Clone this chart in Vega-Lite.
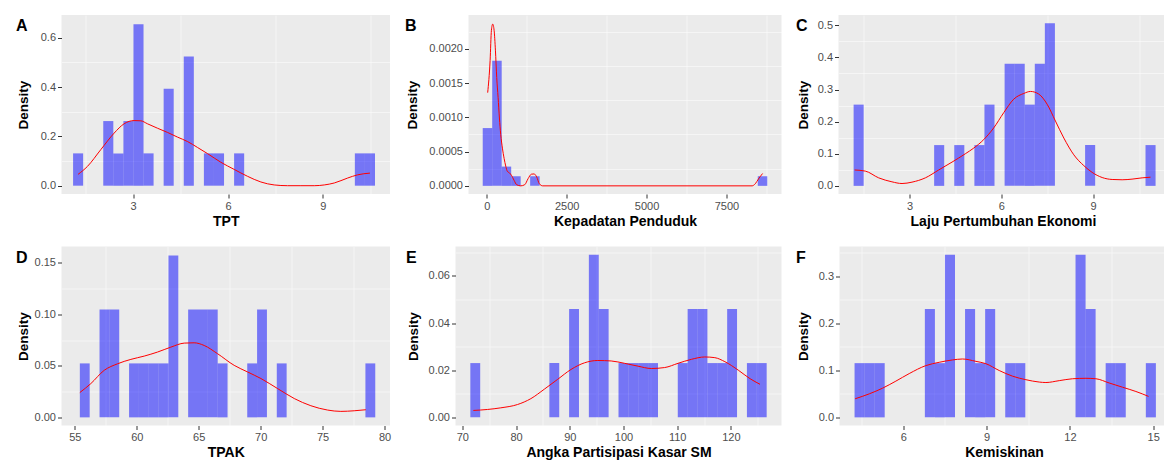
{
  "$schema": "https://vega.github.io/schema/vega-lite/v6.json",
  "background": "white",
  "padding": {"left": 15.5, "top": 15, "right": 0, "bottom": 2},
  "spacing": 18.5,
  "datasets": {
    "barsA": [
      {"x0": 1.102, "x1": 1.420, "density": 0.131},
      {"x0": 2.056, "x1": 2.374, "density": 0.262},
      {"x0": 2.374, "x1": 2.693, "density": 0.131},
      {"x0": 2.693, "x1": 3.011, "density": 0.262},
      {"x0": 3.011, "x1": 3.329, "density": 0.655},
      {"x0": 3.329, "x1": 3.647, "density": 0.131},
      {"x0": 3.965, "x1": 4.283, "density": 0.393},
      {"x0": 4.601, "x1": 4.919, "density": 0.524},
      {"x0": 5.237, "x1": 5.555, "density": 0.131},
      {"x0": 5.555, "x1": 5.874, "density": 0.131},
      {"x0": 6.192, "x1": 6.510, "density": 0.131},
      {"x0": 10.009, "x1": 10.327, "density": 0.131},
      {"x0": 10.327, "x1": 10.645, "density": 0.131}
    ],
    "curveA": [
      {"x": 1.26, "y": 0.046}, {"x": 1.555, "y": 0.078}, {"x": 1.977, "y": 0.146}, {"x": 2.399, "y": 0.213},
      {"x": 2.715, "y": 0.251}, {"x": 3.032, "y": 0.264}, {"x": 3.243, "y": 0.263}, {"x": 3.453, "y": 0.251},
      {"x": 3.77, "y": 0.233}, {"x": 4.086, "y": 0.216}, {"x": 4.403, "y": 0.197}, {"x": 4.719, "y": 0.179},
      {"x": 5.035, "y": 0.155}, {"x": 5.352, "y": 0.13}, {"x": 5.773, "y": 0.095}, {"x": 6.195, "y": 0.066},
      {"x": 6.617, "y": 0.038}, {"x": 7.039, "y": 0.015}, {"x": 7.461, "y": 0.003}, {"x": 7.882, "y": 0.0},
      {"x": 8.304, "y": 0.0}, {"x": 8.726, "y": 0.0}, {"x": 9.042, "y": 0.003}, {"x": 9.359, "y": 0.011},
      {"x": 9.781, "y": 0.031}, {"x": 10.097, "y": 0.044}, {"x": 10.486, "y": 0.051}
    ],
    "barsB": [
      {"x0": -125, "x1": 171.7, "density": 0.000843},
      {"x0": 171.7, "x1": 468.4, "density": 0.001826},
      {"x0": 468.4, "x1": 765.1, "density": 0.000281},
      {"x0": 765.1, "x1": 1061.8, "density": 0.00014},
      {"x0": 1358.5, "x1": 1655.2, "density": 0.00014},
      {"x0": 8479.3, "x1": 8776, "density": 0.00014}
    ],
    "curveB": [
      {"x": 30, "y": 0.00136}, {"x": 106, "y": 0.00183}, {"x": 147, "y": 0.00227}, {"x": 188, "y": 0.00236},
      {"x": 231, "y": 0.00227}, {"x": 272, "y": 0.00198}, {"x": 313, "y": 0.00158}, {"x": 356, "y": 0.00129},
      {"x": 397, "y": 0.00099}, {"x": 438, "y": 0.00075}, {"x": 491, "y": 0.00055}, {"x": 544, "y": 0.0004},
      {"x": 594, "y": 0.00029}, {"x": 647, "y": 0.00021}, {"x": 709, "y": 0.00019}, {"x": 772, "y": 0.000155},
      {"x": 856, "y": 0.00008}, {"x": 938, "y": 0.000016}, {"x": 1063, "y": 0}, {"x": 1188, "y": 0.000016},
      {"x": 1294, "y": 0.000105}, {"x": 1397, "y": 0.00017}, {"x": 1481, "y": 0.000174}, {"x": 1563, "y": 0.00013},
      {"x": 1647, "y": 0.00003}, {"x": 1750, "y": 0}, {"x": 8300, "y": 0}, {"x": 8400, "y": 0.00003},
      {"x": 8500, "y": 0.0001}, {"x": 8630, "y": 0.00018}
    ],
    "barsC": [
      {"x0": 1.167, "x1": 1.496, "density": 0.253},
      {"x0": 3.800, "x1": 4.129, "density": 0.127},
      {"x0": 4.458, "x1": 4.787, "density": 0.127},
      {"x0": 5.116, "x1": 5.445, "density": 0.127},
      {"x0": 5.445, "x1": 5.774, "density": 0.253},
      {"x0": 6.104, "x1": 6.433, "density": 0.380},
      {"x0": 6.433, "x1": 6.762, "density": 0.380},
      {"x0": 6.762, "x1": 7.091, "density": 0.253},
      {"x0": 7.091, "x1": 7.420, "density": 0.380},
      {"x0": 7.420, "x1": 7.749, "density": 0.506},
      {"x0": 8.736, "x1": 9.065, "density": 0.127},
      {"x0": 10.711, "x1": 11.040, "density": 0.127}
    ],
    "curveC": [
      {"x": 1.2, "y": 0.0495}, {"x": 1.55, "y": 0.046}, {"x": 1.986, "y": 0.025}, {"x": 2.42, "y": 0.0126},
      {"x": 2.75, "y": 0.0073}, {"x": 3.076, "y": 0.0116}, {"x": 3.513, "y": 0.025}, {"x": 3.949, "y": 0.0495},
      {"x": 4.385, "y": 0.074}, {"x": 4.82, "y": 0.1}, {"x": 5.094, "y": 0.1176}, {"x": 5.421, "y": 0.144},
      {"x": 5.749, "y": 0.1806}, {"x": 6.076, "y": 0.2279}, {"x": 6.403, "y": 0.27}, {"x": 6.73, "y": 0.2877},
      {"x": 6.95, "y": 0.294}, {"x": 7.221, "y": 0.2858}, {"x": 7.494, "y": 0.2543}, {"x": 7.767, "y": 0.2017},
      {"x": 8.04, "y": 0.149}, {"x": 8.367, "y": 0.0967}, {"x": 8.694, "y": 0.063}, {"x": 8.966, "y": 0.042},
      {"x": 9.294, "y": 0.026}, {"x": 9.62, "y": 0.0199}, {"x": 9.947, "y": 0.019}, {"x": 10.27, "y": 0.021},
      {"x": 10.6, "y": 0.025}, {"x": 10.875, "y": 0.027}
    ],
    "barsD": [
      {"x0": 55.400, "x1": 56.195, "density": 0.0524},
      {"x0": 56.990, "x1": 57.785, "density": 0.1048},
      {"x0": 57.785, "x1": 58.580, "density": 0.1048},
      {"x0": 59.375, "x1": 60.170, "density": 0.0524},
      {"x0": 60.170, "x1": 60.965, "density": 0.0524},
      {"x0": 60.965, "x1": 61.760, "density": 0.0524},
      {"x0": 61.760, "x1": 62.555, "density": 0.0524},
      {"x0": 62.555, "x1": 63.350, "density": 0.1572},
      {"x0": 64.145, "x1": 64.940, "density": 0.1048},
      {"x0": 64.940, "x1": 65.735, "density": 0.1048},
      {"x0": 65.735, "x1": 66.530, "density": 0.1048},
      {"x0": 66.530, "x1": 67.325, "density": 0.0524},
      {"x0": 68.915, "x1": 69.710, "density": 0.0524},
      {"x0": 69.710, "x1": 70.505, "density": 0.1048},
      {"x0": 71.300, "x1": 72.095, "density": 0.0524},
      {"x0": 78.455, "x1": 79.250, "density": 0.0524}
    ],
    "curveD": [
      {"x": 55.4, "y": 0.0241}, {"x": 56.29, "y": 0.0328}, {"x": 57.37, "y": 0.0457}, {"x": 58.44, "y": 0.052},
      {"x": 59.52, "y": 0.0563}, {"x": 60.6, "y": 0.0595}, {"x": 61.67, "y": 0.0634}, {"x": 62.75, "y": 0.0682},
      {"x": 63.83, "y": 0.0721}, {"x": 64.63, "y": 0.0724}, {"x": 65.44, "y": 0.0698}, {"x": 66.52, "y": 0.0618},
      {"x": 67.86, "y": 0.0505}, {"x": 68.94, "y": 0.0441}, {"x": 70.02, "y": 0.0377}, {"x": 71.36, "y": 0.028},
      {"x": 72.71, "y": 0.0183}, {"x": 74.05, "y": 0.0113}, {"x": 75.4, "y": 0.0071}, {"x": 76.47, "y": 0.0058},
      {"x": 77.55, "y": 0.0064}, {"x": 78.49, "y": 0.0074}
    ],
    "barsE": [
      {"x0": 71.490, "x1": 73.329, "density": 0.023},
      {"x0": 86.202, "x1": 88.041, "density": 0.023},
      {"x0": 89.880, "x1": 91.719, "density": 0.046},
      {"x0": 93.558, "x1": 95.397, "density": 0.069},
      {"x0": 95.397, "x1": 97.236, "density": 0.046},
      {"x0": 99.075, "x1": 100.914, "density": 0.023},
      {"x0": 100.914, "x1": 102.753, "density": 0.023},
      {"x0": 102.753, "x1": 104.592, "density": 0.023},
      {"x0": 104.592, "x1": 106.431, "density": 0.023},
      {"x0": 110.109, "x1": 111.948, "density": 0.023},
      {"x0": 111.948, "x1": 113.787, "density": 0.046},
      {"x0": 113.787, "x1": 115.626, "density": 0.046},
      {"x0": 115.626, "x1": 117.465, "density": 0.023},
      {"x0": 117.465, "x1": 119.304, "density": 0.023},
      {"x0": 119.304, "x1": 121.143, "density": 0.046},
      {"x0": 122.982, "x1": 124.821, "density": 0.023},
      {"x0": 124.821, "x1": 126.660, "density": 0.023}
    ],
    "curveE": [
      {"x": 72.05, "y": 0.0029}, {"x": 74.67, "y": 0.0033}, {"x": 77.16, "y": 0.004}, {"x": 80.27, "y": 0.0054},
      {"x": 82.76, "y": 0.0079}, {"x": 85.26, "y": 0.0119}, {"x": 87.75, "y": 0.0161}, {"x": 90.24, "y": 0.0203},
      {"x": 92.73, "y": 0.0231}, {"x": 95.22, "y": 0.0241}, {"x": 97.71, "y": 0.0239}, {"x": 100.2, "y": 0.0229},
      {"x": 102.69, "y": 0.0217}, {"x": 105.18, "y": 0.0207}, {"x": 107.67, "y": 0.0211}, {"x": 110.16, "y": 0.0229},
      {"x": 112.65, "y": 0.0246}, {"x": 115.14, "y": 0.0256}, {"x": 117.01, "y": 0.0253}, {"x": 118.88, "y": 0.0236},
      {"x": 121.37, "y": 0.02}, {"x": 123.55, "y": 0.0164}, {"x": 125.42, "y": 0.014}
    ],
    "barsF": [
      {"x0": 4.248, "x1": 4.610, "density": 0.1152},
      {"x0": 4.610, "x1": 4.971, "density": 0.1152},
      {"x0": 4.971, "x1": 5.333, "density": 0.1152},
      {"x0": 6.779, "x1": 7.141, "density": 0.2304},
      {"x0": 7.141, "x1": 7.502, "density": 0.1152},
      {"x0": 7.502, "x1": 7.864, "density": 0.3456},
      {"x0": 8.226, "x1": 8.587, "density": 0.2304},
      {"x0": 8.587, "x1": 8.949, "density": 0.1152},
      {"x0": 8.949, "x1": 9.310, "density": 0.2304},
      {"x0": 9.672, "x1": 10.034, "density": 0.1152},
      {"x0": 10.034, "x1": 10.395, "density": 0.1152},
      {"x0": 12.203, "x1": 12.565, "density": 0.3456},
      {"x0": 12.565, "x1": 12.926, "density": 0.2304},
      {"x0": 13.288, "x1": 13.650, "density": 0.1152},
      {"x0": 13.650, "x1": 14.011, "density": 0.1152},
      {"x0": 14.734, "x1": 15.096, "density": 0.1152}
    ],
    "curveF": [
      {"x": 4.27, "y": 0.0395}, {"x": 4.78, "y": 0.05}, {"x": 5.256, "y": 0.062}, {"x": 5.736, "y": 0.077},
      {"x": 6.216, "y": 0.093}, {"x": 6.816, "y": 0.11}, {"x": 7.296, "y": 0.117}, {"x": 7.776, "y": 0.122},
      {"x": 8.136, "y": 0.124}, {"x": 8.616, "y": 0.119}, {"x": 8.976, "y": 0.114}, {"x": 9.456, "y": 0.0995},
      {"x": 9.936, "y": 0.0875}, {"x": 10.416, "y": 0.08}, {"x": 10.896, "y": 0.075}, {"x": 11.136, "y": 0.074},
      {"x": 11.616, "y": 0.078}, {"x": 12.096, "y": 0.082}, {"x": 12.576, "y": 0.083}, {"x": 12.936, "y": 0.082},
      {"x": 13.416, "y": 0.073}, {"x": 13.896, "y": 0.064}, {"x": 14.376, "y": 0.055}, {"x": 14.832, "y": 0.0445}
    ]
  },
  "vconcat": [
    {
      "spacing": 14,
      "hconcat": [
        {
          "width": 328.5, "height": 179,
          "title": {"text": "A"},
          "layer": [
            {"data": {"name": "barsA"}, "mark": {"type": "rect", "fill": "blue", "fillOpacity": 0.5, "strokeWidth": 0},
             "encoding": {
               "x": {"field": "x0", "type": "quantitative", "scale": {"domain": [0.736, 11.12], "nice": false, "zero": false},
                     "axis": {"orient": "bottom", "values": [1.5, 4.5, 7.5, 10.5], "labels": false, "ticks": false, "domain": false, "title": null, "gridWidth": 0.5, "minExtent": 0, "maxExtent": 0}},
               "x2": {"field": "x1"},
               "y": {"field": "density", "type": "quantitative", "scale": {"domain": [-0.0337, 0.692], "nice": false, "zero": false},
                     "axis": {"orient": "left", "values": [0.1, 0.3, 0.5], "labels": false, "ticks": false, "domain": false, "title": null, "gridWidth": 0.5, "minExtent": 0, "maxExtent": 0}},
               "y2": {"datum": 0}
             }},
            {"data": {"name": "curveA"}, "mark": {"type": "line", "color": "red", "strokeWidth": 1, "interpolate": "monotone"},
             "encoding": {
               "x": {"field": "x", "type": "quantitative", "axis": {"orient": "bottom", "values": [3, 6, 9], "format": "d", "title": "TPT"}},
               "y": {"field": "y", "type": "quantitative", "axis": {"orient": "left", "values": [0, 0.2, 0.4, 0.6], "format": ".1f", "title": "Density", "minExtent": 31.5, "maxExtent": 31.5}}
             }}
          ],
          "resolve": {"axis": {"x": "independent", "y": "independent"}}
        },
        {
          "width": 313, "height": 179,
          "title": {"text": "B"},
          "layer": [
            {"data": {"name": "barsB"}, "mark": {"type": "rect", "fill": "blue", "fillOpacity": 0.5, "strokeWidth": 0},
             "encoding": {
               "x": {"field": "x0", "type": "quantitative", "scale": {"domain": [-570, 9221], "nice": false, "zero": false},
                     "axis": {"orient": "bottom", "values": [1250, 3750, 6250, 8750], "labels": false, "ticks": false, "domain": false, "title": null, "gridWidth": 0.5, "minExtent": 0, "maxExtent": 0}},
               "x2": {"field": "x1"},
               "y": {"field": "density", "type": "quantitative", "scale": {"domain": [-0.000119, 0.002493], "nice": false, "zero": false},
                     "axis": {"orient": "left", "values": [0.00025, 0.00075, 0.00125, 0.00175, 0.00225], "labels": false, "ticks": false, "domain": false, "title": null, "gridWidth": 0.5, "minExtent": 0, "maxExtent": 0}},
               "y2": {"datum": 0}
             }},
            {"data": {"name": "curveB"}, "mark": {"type": "line", "color": "red", "strokeWidth": 1, "interpolate": "monotone"},
             "encoding": {
               "x": {"field": "x", "type": "quantitative", "axis": {"orient": "bottom", "values": [0, 2500, 5000, 7500], "format": "d", "title": "Kepadatan Penduduk"}},
               "y": {"field": "y", "type": "quantitative", "axis": {"orient": "left", "values": [0, 0.0005, 0.001, 0.0015, 0.002], "format": ".4f", "title": "Density", "minExtent": 49.5, "maxExtent": 49.5}}
             }}
          ],
          "resolve": {"axis": {"x": "independent", "y": "independent"}}
        },
        {
          "width": 329, "height": 179,
          "title": {"text": "C"},
          "layer": [
            {"data": {"name": "barsC"}, "mark": {"type": "rect", "fill": "blue", "fillOpacity": 0.5, "strokeWidth": 0},
             "encoding": {
               "x": {"field": "x0", "type": "quantitative", "scale": {"domain": [0.673, 11.43], "nice": false, "zero": false},
                     "axis": {"orient": "bottom", "values": [1.5, 4.5, 7.5, 10.5], "labels": false, "ticks": false, "domain": false, "title": null, "gridWidth": 0.5, "minExtent": 0, "maxExtent": 0}},
               "x2": {"field": "x1"},
               "y": {"field": "density", "type": "quantitative", "scale": {"domain": [-0.0253, 0.532], "nice": false, "zero": false},
                     "axis": {"orient": "left", "values": [0.05, 0.15, 0.25, 0.35, 0.45], "labels": false, "ticks": false, "domain": false, "title": null, "gridWidth": 0.5, "minExtent": 0, "maxExtent": 0}},
               "y2": {"datum": 0}
             }},
            {"data": {"name": "curveC"}, "mark": {"type": "line", "color": "red", "strokeWidth": 1, "interpolate": "monotone"},
             "encoding": {
               "x": {"field": "x", "type": "quantitative", "axis": {"orient": "bottom", "values": [3, 6, 9], "format": "d", "title": "Laju Pertumbuhan Ekonomi"}},
               "y": {"field": "y", "type": "quantitative", "axis": {"orient": "left", "values": [0, 0.1, 0.2, 0.3, 0.4, 0.5], "format": ".1f", "title": "Density", "minExtent": 28.5, "maxExtent": 28.5}}
             }}
          ],
          "resolve": {"axis": {"x": "independent", "y": "independent"}}
        }
      ]
    },
    {
      "spacing": 14,
      "hconcat": [
        {
          "width": 328.5, "height": 179,
          "title": {"text": "D"},
          "layer": [
            {"data": {"name": "barsD"}, "mark": {"type": "rect", "fill": "blue", "fillOpacity": 0.5, "strokeWidth": 0},
             "encoding": {
               "x": {"field": "x0", "type": "quantitative", "scale": {"domain": [53.92, 80.44], "nice": false, "zero": false},
                     "axis": {"orient": "bottom", "values": [57.5, 62.5, 67.5, 72.5, 77.5], "labels": false, "ticks": false, "domain": false, "title": null, "gridWidth": 0.5, "minExtent": 0, "maxExtent": 0}},
               "x2": {"field": "x1"},
               "y": {"field": "density", "type": "quantitative", "scale": {"domain": [-0.0079, 0.1659], "nice": false, "zero": false},
                     "axis": {"orient": "left", "values": [0.025, 0.075, 0.125], "labels": false, "ticks": false, "domain": false, "title": null, "gridWidth": 0.5, "minExtent": 0, "maxExtent": 0}},
               "y2": {"datum": 0}
             }},
            {"data": {"name": "curveD"}, "mark": {"type": "line", "color": "red", "strokeWidth": 1, "interpolate": "monotone"},
             "encoding": {
               "x": {"field": "x", "type": "quantitative", "axis": {"orient": "bottom", "values": [55, 60, 65, 70, 75, 80], "format": "d", "title": "TPAK"}},
               "y": {"field": "y", "type": "quantitative", "axis": {"orient": "left", "values": [0, 0.05, 0.1, 0.15], "format": ".2f", "title": "Density", "minExtent": 31.5, "maxExtent": 31.5}}
             }}
          ],
          "resolve": {"axis": {"x": "independent", "y": "independent"}}
        },
        {
          "width": 326, "height": 179,
          "title": {"text": "E"},
          "layer": [
            {"data": {"name": "barsE"}, "mark": {"type": "rect", "fill": "blue", "fillOpacity": 0.5, "strokeWidth": 0},
             "encoding": {
               "x": {"field": "x0", "type": "quantitative", "scale": {"domain": [68.73, 129.42], "nice": false, "zero": false},
                     "axis": {"orient": "bottom", "values": [75, 85, 95, 105, 115, 125], "labels": false, "ticks": false, "domain": false, "title": null, "gridWidth": 0.5, "minExtent": 0, "maxExtent": 0}},
               "x2": {"field": "x1"},
               "y": {"field": "density", "type": "quantitative", "scale": {"domain": [-0.0035, 0.0725], "nice": false, "zero": false},
                     "axis": {"orient": "left", "values": [0.01, 0.03, 0.05, 0.07], "labels": false, "ticks": false, "domain": false, "title": null, "gridWidth": 0.5, "minExtent": 0, "maxExtent": 0}},
               "y2": {"datum": 0}
             }},
            {"data": {"name": "curveE"}, "mark": {"type": "line", "color": "red", "strokeWidth": 1, "interpolate": "monotone"},
             "encoding": {
               "x": {"field": "x", "type": "quantitative", "axis": {"orient": "bottom", "values": [70, 80, 90, 100, 110, 120], "format": "d", "title": "Angka Partisipasi Kasar SM"}},
               "y": {"field": "y", "type": "quantitative", "axis": {"orient": "left", "values": [0, 0.02, 0.04, 0.06], "format": ".2f", "title": "Density", "minExtent": 35.5, "maxExtent": 35.5}}
             }}
          ],
          "resolve": {"axis": {"x": "independent", "y": "independent"}}
        },
        {
          "width": 329, "height": 179,
          "title": {"text": "F"},
          "layer": [
            {"data": {"name": "barsF"}, "mark": {"type": "rect", "fill": "blue", "fillOpacity": 0.5, "strokeWidth": 0},
             "encoding": {
               "x": {"field": "x0", "type": "quantitative", "scale": {"domain": [3.706, 15.55], "nice": false, "zero": false},
                     "axis": {"orient": "bottom", "values": [4.5, 7.5, 10.5, 13.5], "labels": false, "ticks": false, "domain": false, "title": null, "gridWidth": 0.5, "minExtent": 0, "maxExtent": 0}},
               "x2": {"field": "x1"},
               "y": {"field": "density", "type": "quantitative", "scale": {"domain": [-0.0173, 0.363], "nice": false, "zero": false},
                     "axis": {"orient": "left", "values": [0.05, 0.15, 0.25, 0.35], "labels": false, "ticks": false, "domain": false, "title": null, "gridWidth": 0.5, "minExtent": 0, "maxExtent": 0}},
               "y2": {"datum": 0}
             }},
            {"data": {"name": "curveF"}, "mark": {"type": "line", "color": "red", "strokeWidth": 1, "interpolate": "monotone"},
             "encoding": {
               "x": {"field": "x", "type": "quantitative", "axis": {"orient": "bottom", "values": [6, 9, 12, 15], "format": "d", "title": "Kemiskinan"}},
               "y": {"field": "y", "type": "quantitative", "axis": {"orient": "left", "values": [0, 0.1, 0.2, 0.3], "format": ".1f", "title": "Density", "minExtent": 29.5, "maxExtent": 29.5}}
             }}
          ],
          "resolve": {"axis": {"x": "independent", "y": "independent"}}
        }
      ]
    }
  ],
  "config": {
    "font": "Liberation Sans",
    "view": {"fill": "#EBEBEB", "stroke": null},
    "axis": {
      "domain": false, "grid": true, "gridColor": "white", "gridWidth": 1.1,
      "tickColor": "#333333", "tickSize": 4, "tickWidth": 1,
      "labelColor": "#4D4D4D", "labelFontSize": 11, "labelPadding": 2, "labelFont": "Liberation Sans",
      "labelFlush": false, "labelOverlap": false,
      "titleFont": "Liberation Sans", "titleFontSize": 14, "titleFontWeight": "bold", "titleColor": "black", "titlePadding": 3
    },
    "axisY": {"titleFontSize": 13.5, "titlePadding": 0},
    "title": {"anchor": "start", "frame": "bounds", "fontSize": 16, "fontWeight": "bold", "color": "black", "font": "Liberation Sans", "baseline": "top", "offset": -19}
  }
}
